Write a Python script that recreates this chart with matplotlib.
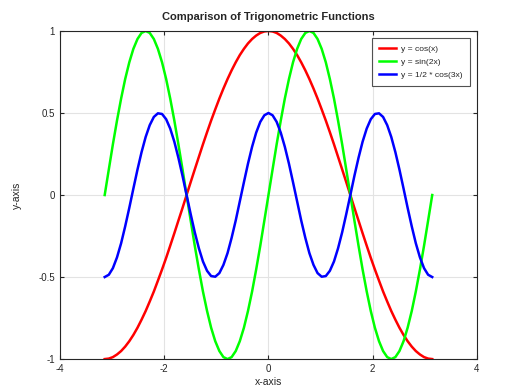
import matplotlib
matplotlib.use('Agg')
import matplotlib.pyplot as plt

# x positions and values (81 samples from -pi to pi)
x_vals = [-3.142, -3.063, -2.985, -2.906, -2.827, -2.749, -2.670, -2.592, -2.513, -2.435,
          -2.356, -2.278, -2.199, -2.121, -2.042, -1.963, -1.885, -1.806, -1.728, -1.649,
          -1.571, -1.492, -1.414, -1.335, -1.257, -1.178, -1.100, -1.021, -0.942, -0.864,
          -0.785, -0.707, -0.628, -0.550, -0.471, -0.393, -0.314, -0.236, -0.157, -0.079,
          0.000,
          0.079, 0.157, 0.236, 0.314, 0.393, 0.471, 0.550, 0.628, 0.707, 0.785,
          0.864, 0.942, 1.021, 1.100, 1.178, 1.257, 1.335, 1.414, 1.492, 1.571,
          1.649, 1.728, 1.806, 1.885, 1.963, 2.042, 2.121, 2.199, 2.278, 2.356,
          2.435, 2.513, 2.592, 2.670, 2.749, 2.827, 2.906, 2.985, 3.063, 3.142]

cos_vals = [-1.000, -0.997, -0.988, -0.972, -0.951, -0.924, -0.891, -0.853, -0.809, -0.760,
            -0.707, -0.649, -0.588, -0.522, -0.454, -0.383, -0.309, -0.233, -0.156, -0.079,
            0.000, 0.079, 0.156, 0.233, 0.309, 0.383, 0.454, 0.522, 0.588, 0.649,
            0.707, 0.760, 0.809, 0.853, 0.891, 0.924, 0.951, 0.972, 0.988, 0.997,
            1.000,
            0.997, 0.988, 0.972, 0.951, 0.924, 0.891, 0.853, 0.809, 0.760, 0.707,
            0.649, 0.588, 0.522, 0.454, 0.383, 0.309, 0.233, 0.156, 0.079, 0.000,
            -0.079, -0.156, -0.233, -0.309, -0.383, -0.454, -0.522, -0.588, -0.649, -0.707,
            -0.760, -0.809, -0.853, -0.891, -0.924, -0.951, -0.972, -0.988, -0.997, -1.000]

sin2_vals = [0.000, 0.156, 0.309, 0.454, 0.588, 0.707, 0.809, 0.891, 0.951, 0.988,
             1.000, 0.988, 0.951, 0.891, 0.809, 0.707, 0.588, 0.454, 0.309, 0.156,
             0.000, -0.156, -0.309, -0.454, -0.588, -0.707, -0.809, -0.891, -0.951, -0.988,
             -1.000, -0.988, -0.951, -0.891, -0.809, -0.707, -0.588, -0.454, -0.309, -0.156,
             0.000,
             0.156, 0.309, 0.454, 0.588, 0.707, 0.809, 0.891, 0.951, 0.988, 1.000,
             0.988, 0.951, 0.891, 0.809, 0.707, 0.588, 0.454, 0.309, 0.156, 0.000,
             -0.156, -0.309, -0.454, -0.588, -0.707, -0.809, -0.891, -0.951, -0.988, -1.000,
             -0.988, -0.951, -0.891, -0.809, -0.707, -0.588, -0.454, -0.309, -0.156, 0.000]

halfcos3_vals = [-0.500, -0.486, -0.446, -0.380, -0.294, -0.191, -0.078, 0.039, 0.155, 0.261,
                 0.354, 0.426, 0.476, 0.498, 0.494, 0.462, 0.405, 0.325, 0.227, 0.117,
                 0.000, -0.117, -0.227, -0.325, -0.405, -0.462, -0.494, -0.498, -0.476, -0.426,
                 -0.354, -0.261, -0.155, -0.039, 0.078, 0.191, 0.294, 0.380, 0.446, 0.486,
                 0.500,
                 0.486, 0.446, 0.380, 0.294, 0.191, 0.078, -0.039, -0.155, -0.261, -0.354,
                 -0.426, -0.476, -0.498, -0.494, -0.462, -0.405, -0.325, -0.227, -0.117, 0.000,
                 0.117, 0.227, 0.325, 0.405, 0.462, 0.494, 0.498, 0.476, 0.426, 0.354,
                 0.261, 0.155, 0.039, -0.078, -0.191, -0.294, -0.380, -0.446, -0.486, -0.500]

labels = ['y = cos(x)', 'y = sin(2x)', 'y = 1/2 * cos(3x)']
x_ticks = [-4, -2, 0, 2, 4]
y_ticks = [-1, -0.5, 0, 0.5, 1]
y_tick_labels = ['-1', '-0.5', '0', '0.5', '1']

plt.rcParams['font.family'] = ['Liberation Sans', 'DejaVu Sans']
txt = '#262626'

fig = plt.figure(figsize=(5.1, 3.92), dpi=100)
ax = fig.add_axes([0.1176, 0.084, 0.8176, 0.837])

ax.plot(x_vals, cos_vals, color='#ff0000', lw=1.8, label=labels[0])
ax.plot(x_vals, sin2_vals, color='#00ff00', lw=1.8, label=labels[1])
ax.plot(x_vals, halfcos3_vals, color='#0000ff', lw=1.8, label=labels[2])

ax.set_xlim(-4, 4)
ax.set_ylim(-1, 1)
ax.set_xticks(x_ticks)
ax.set_xticklabels([str(t) for t in x_ticks])
ax.set_yticks(y_ticks)
ax.set_yticklabels(y_tick_labels)
ax.grid(True, color='#e3e3e3', lw=0.8)
ax.set_axisbelow(True)
ax.tick_params(direction='in', top=True, right=True, length=3, labelsize=7,
               colors=txt, width=0.8)
for s in ax.spines.values():
    s.set_color(txt)
    s.set_linewidth(0.8)

ax.set_title('Comparison of Trigonometric Functions', fontsize=8, fontweight='bold',
             color=txt, pad=8)
ax.set_xlabel('x-axis', fontsize=7.5, color=txt, labelpad=2)
ax.set_ylabel('y-axis', fontsize=7.5, color=txt, labelpad=12)

leg = ax.legend(loc='upper right', fontsize=6.1, frameon=True, fancybox=False,
                handlelength=2.1, handletextpad=0.6, borderpad=0.8, labelspacing=0.65,
                borderaxespad=0, bbox_to_anchor=(0.983, 0.979))
leg.get_frame().set_edgecolor(txt)
leg.get_frame().set_linewidth(0.8)
for t in leg.get_texts():
    t.set_color(txt)

fig.savefig('out.png', dpi=100)
